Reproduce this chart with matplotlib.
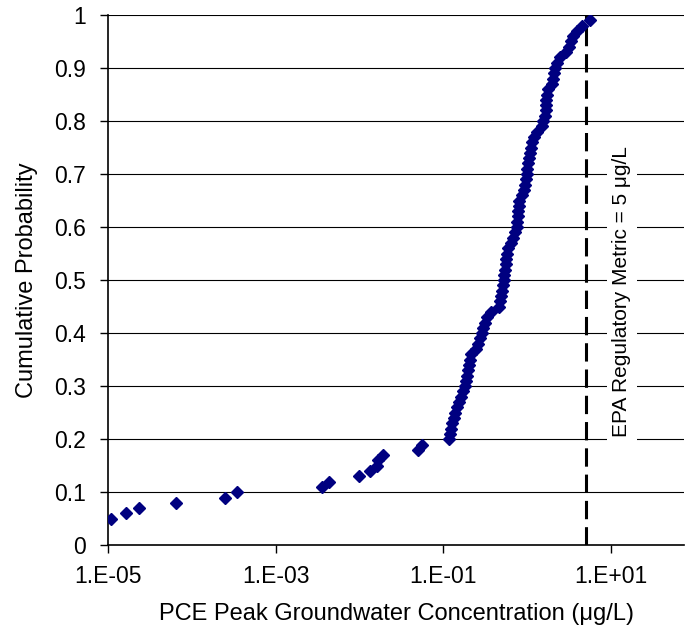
import numpy as np
import matplotlib
matplotlib.use("Agg")
import matplotlib.pyplot as plt
from matplotlib.ticker import FixedLocator, NullLocator

plt.rcParams['font.family'] = ['Liberation Sans', 'DejaVu Sans']

# cumulative probability of each sorted realisation
prob = [round(0.05 + 0.01 * i, 2) for i in range(95)]

# PCE peak groundwater concentration (ug/L)
conc = [
    1.08e-5, 1.63e-5, 2.32e-5, 6.37e-5, 2.49e-4, 3.40e-4,
    3.55e-3, 4.34e-3, 9.82e-3, 1.33e-2, 1.62e-2, 1.67e-2, 1.88e-2,
    4.92e-2, 5.53e-2,
    0.115, 0.120, 0.123, 0.126, 0.132, 0.137, 0.145, 0.153, 0.162, 0.171,
    0.181, 0.185, 0.191, 0.196, 0.201, 0.207, 0.216, 0.244, 0.258, 0.273,
    0.286, 0.296, 0.313, 0.330, 0.374, 0.459, 0.479, 0.492, 0.506, 0.520,
    0.527, 0.535, 0.542, 0.550, 0.565, 0.581, 0.597, 0.640, 0.675, 0.723,
    0.754, 0.764, 0.774, 0.785, 0.796, 0.807, 0.865, 0.902, 0.940, 0.964,
    0.991, 1.00, 1.03, 1.05, 1.08, 1.11, 1.14, 1.19, 1.29, 1.48,
    1.56, 1.63, 1.67, 1.68, 1.69, 1.70, 1.77, 1.95, 2.04, 2.11,
    2.17, 2.26, 2.45, 2.90, 3.15, 3.37, 3.56, 3.97, 4.44, 5.68,
]

epa_limit = 5.0  # ug/L
x_ticks = [1e-5, 1e-3, 1e-1, 1e1]
x_labels = ['1.E-05', '1.E-03', '1.E-01', '1.E+01']
y_ticks = [0, 0.1, 0.2, 0.3, 0.4, 0.5, 0.6, 0.7, 0.8, 0.9, 1]
y_labels = ['0', '0.1', '0.2', '0.3', '0.4', '0.5', '0.6', '0.7', '0.8', '0.9', '1']

fig = plt.figure(figsize=(6.86, 6.32), dpi=100)
ax = fig.add_axes([0.1579, 0.1372, 0.997 - 0.1579, 0.8391])

for yv in y_ticks[1:]:
    ax.axhline(yv, color='black', lw=0.8, zorder=1)

ax.plot(conc, prob, linestyle='none', marker='D', ms=5.8,
        color='#000080', zorder=3)

ax.plot([epa_limit, epa_limit], [0, 1], color='black', lw=2.2,
        linestyle=(0, (6, 2.6)), zorder=2)

ax.text(13.5, 0.478, 'EPA Regulatory Metric = 5 \u03bcg/L', rotation=90,
        ha='center', va='center', fontsize=15,
        bbox=dict(facecolor='white', edgecolor='none', pad=4), zorder=4)

ax.set_xscale('log')
ax.set_xlim(1e-5, 10 ** 1.87)
ax.set_ylim(0, 1)
ax.xaxis.set_major_locator(FixedLocator(x_ticks))
ax.xaxis.set_minor_locator(NullLocator())
ax.set_xticklabels(x_labels)
ax.set_yticks(y_ticks)
ax.set_yticklabels(y_labels)

ax.tick_params(axis='both', direction='out', length=6, width=1,
               labelsize=16.5, colors='black')
ax.tick_params(axis='y', pad=10)
ax.tick_params(axis='x', pad=8)

for side in ['top', 'right']:
    ax.spines[side].set_visible(False)
for side in ['left', 'bottom']:
    ax.spines[side].set_linewidth(1.2)

ax.set_xlabel('PCE Peak Groundwater Concentration (\u03bcg/L)', fontsize=17,
              labelpad=11)
ax.set_ylabel('Cumulative Probability', fontsize=17, labelpad=12)

fig.savefig('out.png', dpi=100)
